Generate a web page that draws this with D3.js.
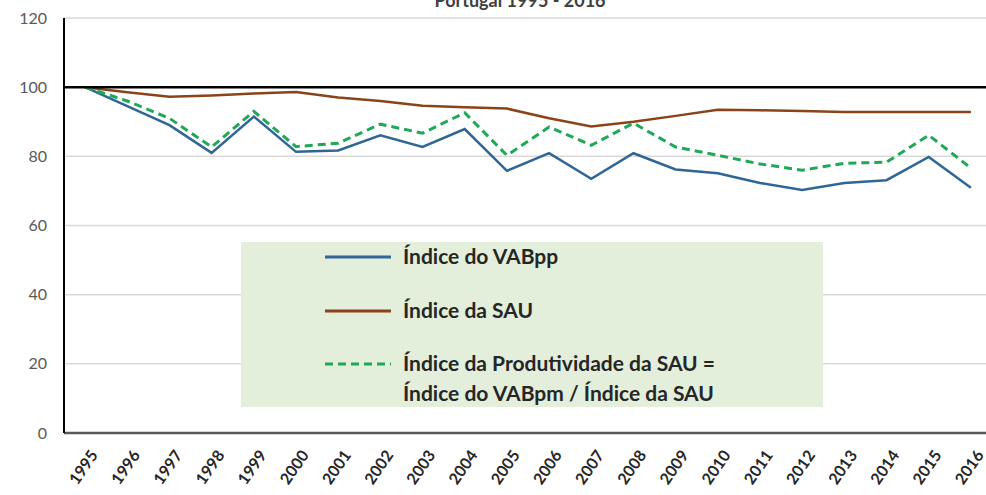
<!DOCTYPE html>
<html>
<head>
<meta charset="utf-8">
<script src="https://cdn.jsdelivr.net/npm/d3@7"></script>
<style>
  body { margin: 0; background: #fff; }
  svg { display: block; font-family: Lato, "Open Sans", sans-serif; }
</style>
</head>
<body>
<script>
const years = ["1995","1996","1997","1998","1999","2000","2001","2002","2003","2004","2005","2006","2007","2008","2009","2010","2011","2012","2013","2014","2015","2016"];
const vabpp = [100, 94.5, 89, 81, 91.5, 81.3, 81.7, 86.1, 82.7, 87.9, 75.8, 80.9, 73.5, 80.9, 76.2, 75.1, 72.3, 70.3, 72.3, 73.1, 79.8, 70.9];
const sau = [100, 98.5, 97.2, 97.6, 98.2, 98.6, 97, 96, 94.6, 94.2, 93.8, 91, 88.6, 90, 91.7, 93.5, 93.3, 93.1, 92.8, 92.8, 92.8, 92.8];
const produtividade = [100, 96, 91, 82.7, 93, 82.8, 83.8, 89.3, 86.7, 92.6, 80.3, 88.5, 83.2, 89.6, 82.7, 80.3, 77.8, 76, 78, 78.3, 86.1, 76.6];
const yTicks = [0, 20, 40, 60, 80, 100, 120];

const width = 986, height = 495;
const plotLeft = 64, plotTop = 18, plotBottom = 433, plotRight = 992;

const svg = d3.select("body").append("svg").attr("width", width).attr("height", height);

const x = d3.scalePoint().domain(years).range([plotLeft, plotRight]).padding(0.5);
const y = d3.scaleLinear().domain([0, 120]).range([plotBottom, plotTop]);

// gridlines
svg.append("g").selectAll("line").data(yTicks.filter(d => d !== 0 && d !== 100)).enter().append("line")
  .attr("x1", plotLeft).attr("x2", width).attr("y1", d => y(d)).attr("y2", d => y(d))
  .attr("stroke", "#d9d9d9").attr("stroke-width", 1.5);

// y tick labels
svg.append("g").selectAll("text").data(yTicks).enter().append("text")
  .attr("x", 47).attr("y", d => y(d)).attr("dy", "0.35em").attr("text-anchor", "end")
  .attr("fill", "#595959").style("font-size", "16px").text(d => d);

// title (cut at the top, like the source)
svg.append("text").attr("x", 520).attr("y", 7).attr("text-anchor", "middle")
  .attr("fill", "#404040").style("font-size", "18px").style("font-weight", "bold")
  .text("Portugal 1995 - 2016");

// legend box
svg.append("rect").attr("x", 241).attr("y", 242).attr("width", 582).attr("height", 165).attr("fill", "#e3efdb");

const line = d3.line().x((d, i) => x(years[i])).y(d => y(d));

svg.append("path").datum(sau).attr("d", line).attr("fill", "none").attr("stroke", "#8b4419").attr("stroke-width", 2.5);
svg.append("path").datum(vabpp).attr("d", line).attr("fill", "none").attr("stroke", "#2f6696").attr("stroke-width", 2.5);
svg.append("path").datum(produtividade).attr("d", line).attr("fill", "none").attr("stroke", "#1fa857")
  .attr("stroke-width", 3).attr("stroke-dasharray", "8,5");

// axes
svg.append("line").attr("x1", plotLeft).attr("x2", width).attr("y1", y(100)).attr("y2", y(100)).attr("stroke", "#000").attr("stroke-width", 2.5);
svg.append("line").attr("x1", plotLeft).attr("x2", width).attr("y1", plotBottom).attr("y2", plotBottom).attr("stroke", "#595959").attr("stroke-width", 2.5);
svg.append("line").attr("x1", plotLeft).attr("x2", plotLeft).attr("y1", plotTop).attr("y2", plotBottom).attr("stroke", "#000").attr("stroke-width", 2);

// x labels
svg.append("g").selectAll("text").data(years).enter().append("text")
  .attr("transform", d => "translate(" + (x(d) + 9) + "," + 452 + ") rotate(-55)")
  .attr("text-anchor", "end").attr("dy", "0.35em")
  .attr("fill", "#262626").style("font-size", "16px").style("font-weight", "bold").text(d => d);

// legend
const legend = [
  { label: ["Índice do VABpp"], color: "#2f6696", dash: null, y: 257 },
  { label: ["Índice da SAU"], color: "#8b4419", dash: null, y: 311 },
  { label: ["Índice da Produtividade da SAU =", "Índice do VABpm / Índice da SAU"], color: "#1fa857", dash: "8,5", y: 364 }
];
const lg = svg.append("g").selectAll("g").data(legend).enter().append("g");
lg.append("line").attr("x1", 325).attr("x2", 391).attr("y1", d => d.y).attr("y2", d => d.y)
  .attr("stroke", d => d.color).attr("stroke-width", 3).attr("stroke-dasharray", d => d.dash);
lg.each(function(d) {
  d3.select(this).selectAll("text").data(d.label).enter().append("text")
    .attr("x", 403).attr("y", (t, i) => d.y + i * 30).attr("dy", "0.35em")
    .attr("fill", "#262626").style("font-size", "21px").style("font-weight", "bold").text(t => t);
});
</script>
</body>
</html>
